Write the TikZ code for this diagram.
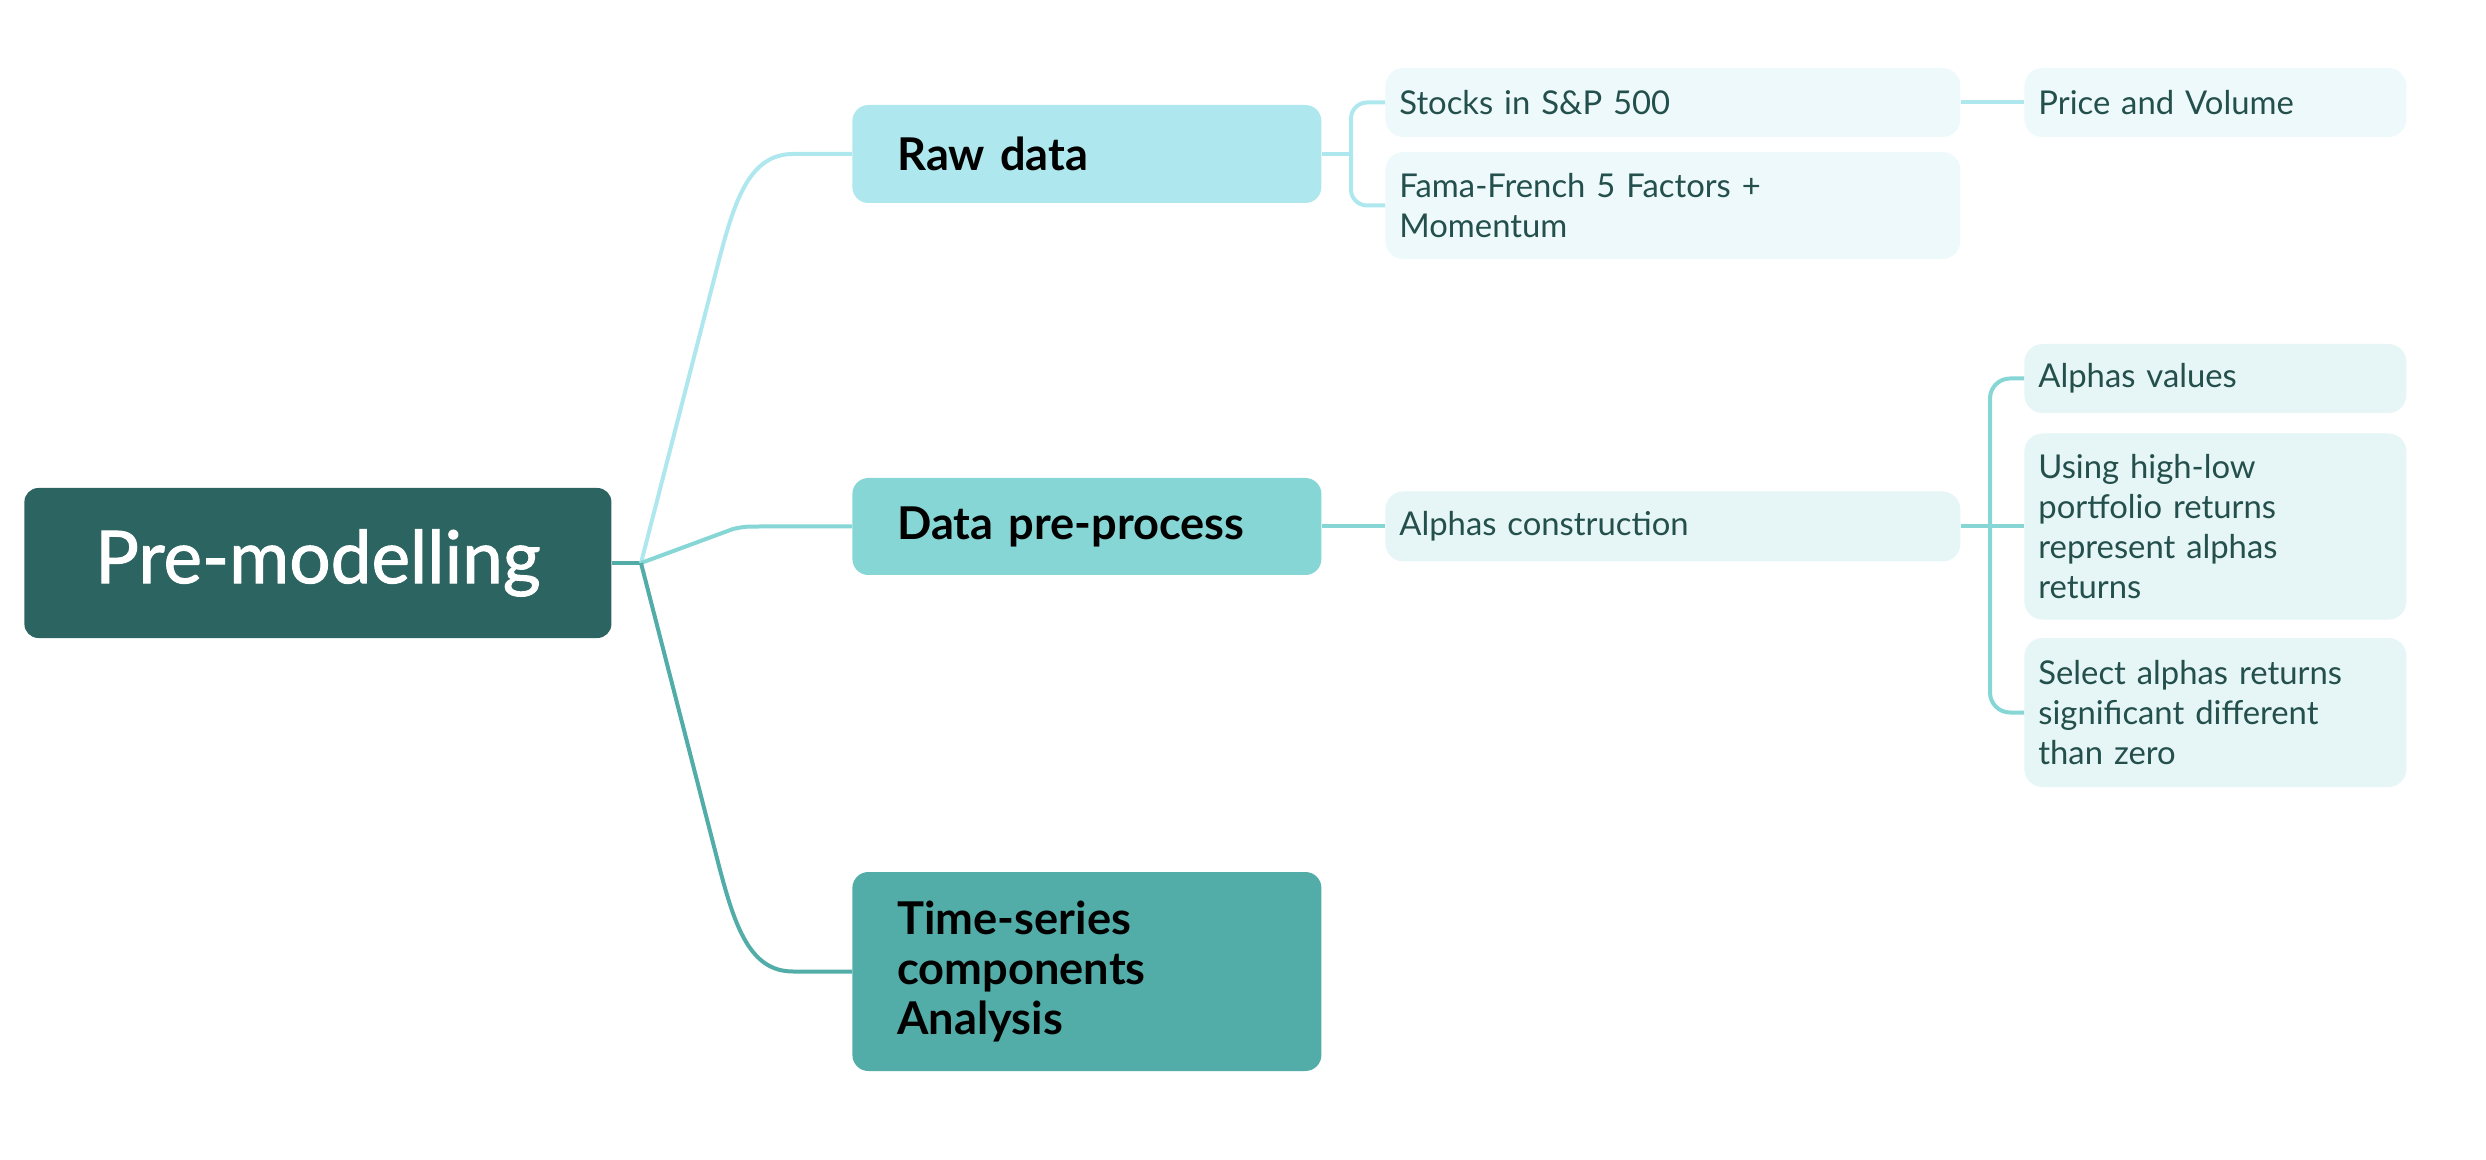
\documentclass[tikz,border=0pt]{standalone}
\usepackage{fontspec}
\setmainfont{Lato}
\newfontfamily\rootfont{Lato}[BoldFont={Lato},BoldFeatures={FakeBold=1.3}]
\definecolor{rootc}{HTML}{2C6461}
\definecolor{rawc}{HTML}{AEE8EE}
\definecolor{prec}{HTML}{86D6D6}
\definecolor{tsc}{HTML}{52ACA8}
\definecolor{lightA}{HTML}{EEF9FB}
\definecolor{lightB}{HTML}{E6F5F5}
\definecolor{subtext}{HTML}{234F4C}
\begin{document}
\begin{tikzpicture}[x=0.5pt,y=-0.5pt,
  rootbox/.style={rectangle, rounded corners=7pt, fill=rootc, text=white, anchor=west,
    minimum width=293.5pt, minimum height=75pt, inner sep=0pt, align=center,
    font=\rootfont\fontsize{36.5}{42}\selectfont\bfseries},
  mainbox/.style={rectangle, rounded corners=8pt, anchor=west, text=black,
    minimum width=234.5pt, inner xsep=22.5pt, inner ysep=0pt, text width=189.5pt, align=left,
    font=\fontsize{22.6}{25}\selectfont\bfseries},
  subbox/.style={rectangle, rounded corners=9pt, anchor=west, text=subtext,
    minimum width=287.5pt, inner xsep=7pt, inner ysep=0pt, text width=273.5pt, align=left,
    font=\fontsize{16.4}{20}\selectfont},
  leafbox/.style={subbox, minimum width=191pt, text width=177pt},
  conn/.style={line width=2pt, line cap=butt, line join=round}
]
\useasboundingbox (0,0) rectangle (2486,1160);

% nodes
\node[rootbox] (root) at (24,563) {Pre-modelling};
\node[mainbox, fill=rawc, minimum height=49pt] (raw) at (852,154) {Raw data};
\node[mainbox, fill=prec, minimum height=48.5pt] (pre) at (852,526.5) {Data pre-process};
\node[mainbox, fill=tsc, minimum height=99.5pt] (ts) at (852,971.5) {Time-series\\components\\Analysis};

\node[subbox, fill=lightA, minimum height=34.5pt] (stocks) at (1385,102.5) {Stocks in S\&P 500};
\node[subbox, fill=lightA, minimum height=53.5pt] (fama) at (1385,205.5) {Fama-French 5 Factors +\\Momentum};
\node[leafbox, fill=lightA, minimum height=34.5pt] (price) at (2024,102.5) {Price and Volume};

\node[subbox, fill=lightB, minimum height=35pt] (alphac) at (1385,526.5) {Alphas construction};
\node[leafbox, fill=lightB, minimum height=34.5pt] (alphav) at (2024,378.5) {Alphas values};
\node[leafbox, fill=lightB, minimum height=93pt] (using) at (2024,526.5) {Using high-low\\portfolio returns\\represent alphas\\returns};
\node[leafbox, fill=lightB, minimum height=74.5pt] (select) at (2024,712.5) {Select alphas returns\\significant different\\than zero};

% junctions
\coordinate (j) at (641,563);
\coordinate (jr) at (1351,154);
\coordinate (ja) at (1990,526.5);

% root to branches
\draw[conn, tsc] (root.east) -- (j);
\draw[conn, rawc] (j) -- (719,260) .. controls (735,199) and (750,154) .. (793,154) -- (raw.west);
\draw[conn, prec] (j) -- (733,529) .. controls (745,526.5) .. (762,526.5) -- (pre.west);
\draw[conn, tsc] (j) -- (719,866) .. controls (735,927) and (750,971.5) .. (793,971.5) -- (ts.west);

% raw data subtree
\draw[conn, rawc] (raw.east) -- (jr);
\draw[conn, rawc, rounded corners=8pt] (stocks.west) -| (jr) |- (fama.west);
\draw[conn, rawc] (stocks.east) -- (price.west);

% data pre-process subtree
\draw[conn, prec] (pre.east) -- (alphac.west);
\draw[conn, prec] (alphac.east) -- (ja);
\draw[conn, prec, rounded corners=10pt] (alphav.west) -| (ja) |- (select.west);
\draw[conn, prec] (ja) -- (using.west);
\end{tikzpicture}
\end{document}
